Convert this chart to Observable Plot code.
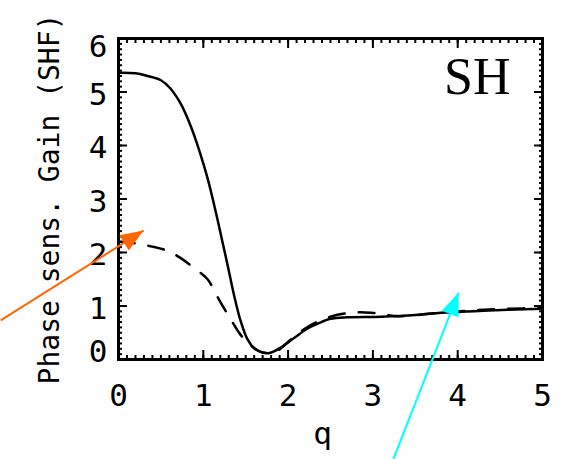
<!DOCTYPE html>
<html><head><meta charset="utf-8">
<script src="https://cdn.jsdelivr.net/npm/d3@7"></script>
<script src="https://cdn.jsdelivr.net/npm/@observablehq/plot@0.6"></script>
<style>body{margin:0;background:#fff}</style>
</head><body><div id="chart"></div>
<script>
// Solid curve (phase-sensitive gain)
const solidQ = [0, 0.2, 0.34, 0.5, 0.61, 0.73, 0.85, 0.95, 1.05, 1.15, 1.22, 1.29, 1.36, 1.44, 1.52, 1.6, 1.7, 1.78, 1.91, 2.07, 2.23, 2.35, 2.5, 2.7, 3.1, 3.5, 3.7, 4.3, 5.0];
const solidG = [5.36, 5.35, 5.30, 5.22, 5.07, 4.79, 4.37, 3.92, 3.39, 2.74, 2.24, 1.74, 1.22, 0.72, 0.38, 0.21, 0.13, 0.12, 0.22, 0.40, 0.58, 0.67, 0.76, 0.79, 0.80, 0.83, 0.86, 0.91, 0.95];
// Dashed curve
const dashQ = [0, 0.2, 0.4, 0.58, 0.73, 0.89, 1.05, 1.15, 1.24, 1.32, 1.44, 1.56, 1.7, 1.85, 2.0, 2.2, 2.5, 2.8, 3.0, 3.3, 3.7, 4.2, 4.6, 5.0];
const dashG = [2.2, 2.17, 2.11, 2.03, 1.90, 1.71, 1.50, 1.22, 0.97, 0.76, 0.46, 0.26, 0.13, 0.14, 0.33, 0.58, 0.80, 0.88, 0.87, 0.81, 0.86, 0.92, 0.95, 0.96];

const xTicks = [0, 1, 2, 3, 4, 5];
const yTicks = [0, 1, 2, 3, 4, 5, 6];
const xMinor = d3.range(0, 51).map(i => i / 10);
const yMinor = d3.range(0, 61).map(i => i / 10);
const xLabel = "q";
const yLabel = "Phase sens. Gain (SHF)";
const panelLabel = "SH";

// Annotation arrows (in data units)
const arrowColor = ["#ff6600", "#00ffff"];
const arrowX1 = [-1.39, 3.24];
const arrowY1 = [0.73, -1.87];
const arrowX2 = [0.295, 4.01];
const arrowY2 = [2.41, 1.25];

const solid = solidQ.map((q, i) => ({q, g: solidG[i]}));
const dashed = dashQ.map((q, i) => ({q, g: dashG[i]}));
const arrows = arrowX1.map((x1, i) => ({x1, y1: arrowY1[i], x2: arrowX2[i], y2: arrowY2[i], c: arrowColor[i]}));

const headSymbol = {
  draw(ctx) {
    ctx.moveTo(0, 0);
    ctx.lineTo(-9, 23);
    ctx.lineTo(9, 23);
    ctx.closePath();
  }
};

const tickFont = "DejaVu Sans Mono";
const fmt = d => String(d);

function build(rot) {
  const tickMarks = [];
  for (const a of ["bottom", "top"]) {
    tickMarks.push(Plot.axisX(xMinor, {anchor: a, tickSize: -4, strokeWidth: 2, tickFormat: () => "", label: null}));
    tickMarks.push(Plot.axisX(xTicks, {anchor: a, tickSize: -9, strokeWidth: 2, tickFormat: () => "", label: null}));
  }
  for (const a of ["left", "right"]) {
    tickMarks.push(Plot.axisY(yMinor, {anchor: a, tickSize: -4, strokeWidth: 2, tickFormat: () => "", label: null}));
    tickMarks.push(Plot.axisY(yTicks, {anchor: a, tickSize: -9, strokeWidth: 2, tickFormat: () => "", label: null}));
  }
  return Plot.plot({
    width: 561,
    height: 459,
    marginLeft: 118,
    marginRight: 19,
    marginTop: 38,
    marginBottom: 100,
    style: {background: "#fff", color: "#000"},
    x: {domain: [0, 5]},
    y: {domain: [0, 6]},
    marks: [
      ...tickMarks,
      Plot.axisX(xTicks, {anchor: "bottom", tickSize: 0, tickPadding: 24, tickFormat: fmt, label: null, fontSize: 31, fontFamily: tickFont}),
      Plot.axisY(yTicks.slice(1, 6), {anchor: "left", tickSize: 0, tickPadding: 11, dy: 3, tickFormat: fmt, label: null, fontSize: 31, fontFamily: tickFont}),
      Plot.axisY([yTicks[0]], {anchor: "left", tickSize: 0, tickPadding: 11, dy: -7, tickFormat: fmt, label: null, fontSize: 31, fontFamily: tickFont}),
      Plot.axisY([yTicks[6]], {anchor: "left", tickSize: 0, tickPadding: 11, dy: 9, tickFormat: fmt, label: null, fontSize: 31, fontFamily: tickFont}),
      Plot.line(dashed, {x: "q", y: "g", stroke: "#000", strokeWidth: 2.5, strokeDasharray: "16,14", curve: "catmull-rom", clip: true}),
      Plot.line(solid, {x: "q", y: "g", stroke: "#000", strokeWidth: 2.5, curve: "catmull-rom", clip: true}),
      Plot.frame({stroke: "#000", strokeWidth: 3}),
      Plot.text([xLabel], {frameAnchor: "bottom", dy: 84, dx: -8, fontSize: 31, fontFamily: tickFont}),
      Plot.text([yLabel], {frameAnchor: "left", rotate: -90, textAnchor: "middle", dx: -68, fontSize: 28, fontFamily: tickFont}),
      Plot.text([panelLabel], {frameAnchor: "top-right", dx: -32, dy: 55, textAnchor: "end", lineAnchor: "bottom", fontSize: 52, fontFamily: "Liberation Serif"}),
      Plot.link(arrows, {x1: "x1", y1: "y1", x2: "x2", y2: "y2", stroke: "c", strokeWidth: 2, clip: false}),
      Plot.dot(arrows, {x: "x2", y: "y2", fill: "c", stroke: null, symbol: headSymbol, rotate: rot, r: 5})
    ]
  });
}

const first = build([0, 0]);
const sx = first.scale("x"), sy = first.scale("y");
const rot = arrows.map(d => {
  const dx = sx.apply(d.x2) - sx.apply(d.x1);
  const dy = sy.apply(d.y2) - sy.apply(d.y1);
  return Math.atan2(dx, -dy) * 180 / Math.PI;
});
document.getElementById("chart").append(build(rot));
</script>
</body></html>
